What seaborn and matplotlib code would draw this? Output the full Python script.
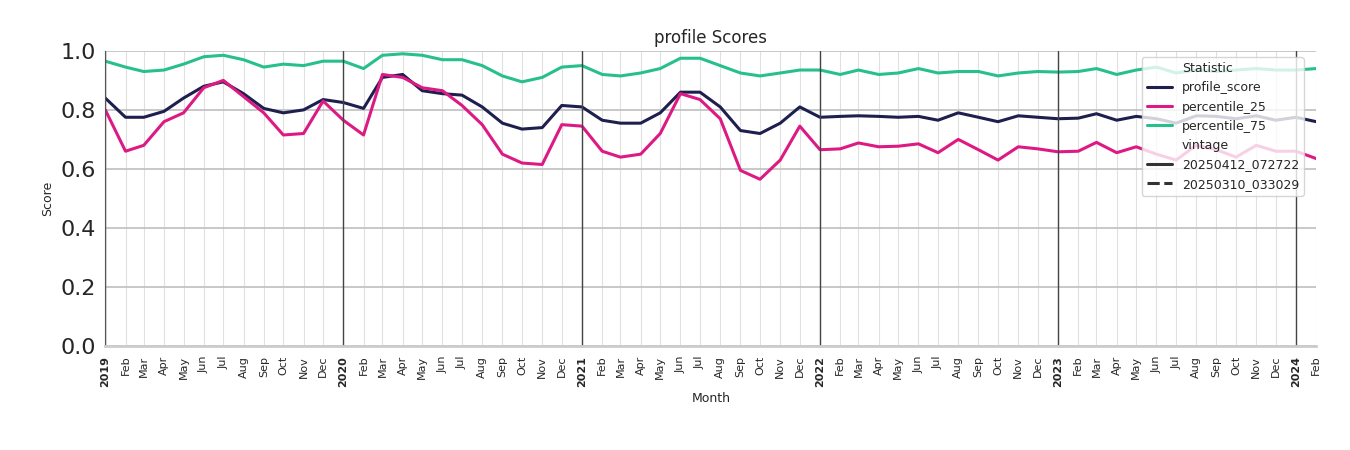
import numpy as np
import pandas as pd
import matplotlib
matplotlib.use("Agg")
import matplotlib.pyplot as plt
import seaborn as sns

months = pd.date_range("2019-01-01", "2024-02-01", freq="MS")

profile_score = [0.84, 0.775, 0.775, 0.795, 0.84, 0.88, 0.895, 0.855, 0.805, 0.79, 0.80, 0.835,
                 0.825, 0.805, 0.91, 0.92, 0.865, 0.855, 0.85, 0.81, 0.755, 0.735, 0.74, 0.815,
                 0.81, 0.765, 0.755, 0.755, 0.79, 0.86, 0.86, 0.81, 0.73, 0.72, 0.755, 0.81,
                 0.775, 0.778, 0.78, 0.778, 0.775, 0.778, 0.765, 0.79, 0.775, 0.76, 0.78, 0.775,
                 0.77, 0.772, 0.787, 0.765, 0.778, 0.77, 0.755, 0.78, 0.778, 0.77, 0.78, 0.765,
                 0.775, 0.76]
percentile_25 = [0.80, 0.66, 0.68, 0.76, 0.79, 0.875, 0.90, 0.845, 0.79, 0.715, 0.72, 0.83,
                 0.765, 0.715, 0.92, 0.91, 0.875, 0.865, 0.815, 0.75, 0.65, 0.62, 0.615, 0.75,
                 0.745, 0.66, 0.64, 0.65, 0.72, 0.855, 0.835, 0.77, 0.595, 0.565, 0.63, 0.745,
                 0.665, 0.668, 0.688, 0.675, 0.677, 0.685, 0.655, 0.70, 0.665, 0.63, 0.675, 0.668,
                 0.658, 0.66, 0.69, 0.655, 0.675, 0.65, 0.63, 0.68, 0.665, 0.64, 0.68, 0.66,
                 0.66, 0.635]
percentile_75 = [0.965, 0.945, 0.93, 0.935, 0.955, 0.98, 0.985, 0.97, 0.945, 0.955, 0.95, 0.965,
                 0.965, 0.94, 0.985, 0.99, 0.985, 0.97, 0.97, 0.95, 0.915, 0.895, 0.91, 0.945,
                 0.95, 0.92, 0.915, 0.925, 0.94, 0.975, 0.975, 0.95, 0.925, 0.915, 0.925, 0.935,
                 0.935, 0.92, 0.935, 0.92, 0.925, 0.94, 0.925, 0.93, 0.93, 0.915, 0.925, 0.93,
                 0.928, 0.93, 0.94, 0.92, 0.935, 0.945, 0.925, 0.935, 0.93, 0.935, 0.94, 0.935,
                 0.935, 0.94]
vintages = ["20250412_072722", "20250310_033029"]

df = pd.DataFrame({
    "Month": np.tile(months, 3),
    "Score": profile_score + percentile_25 + percentile_75,
    "Statistic": ["profile_score"] * 62 + ["percentile_25"] * 62 + ["percentile_75"] * 62,
    "vintage": vintages[0],
})

sns.set_style("whitegrid")
fig, ax = plt.subplots(figsize=(13.5, 4.5), dpi=100)
fig.subplots_adjust(left=0.078, right=0.975, top=0.887, bottom=0.231)

sns.lineplot(data=df, x="Month", y="Score", hue="Statistic", style="vintage",
             style_order=vintages,
             palette=["#1f1f4f", "#dd1a84", "#27c08c"], linewidth=2.2, ax=ax)

ax.set_ylim(0, 1.0)
ax.set_xlim(months[0], months[-1])
ax.set_xticks(months)
labels = [m.strftime("%Y") if m.month == 1 else m.strftime("%b") for m in months]
ax.set_xticklabels(labels, rotation=90, fontsize=8)
for lab, m in zip(ax.get_xticklabels(), months):
    if m.month == 1:
        lab.set_fontweight("bold")
ax.tick_params(axis="y", labelsize=16)
ax.grid(axis="x", color="#e0e0e0", linewidth=0.8)
ax.grid(axis="y", color="#c4c4c4", linewidth=1.3)
for m in months:
    if m.month == 1:
        ax.axvline(m, color="#444444", linewidth=1)
for s in ["top", "right"]:
    ax.spines[s].set_visible(False)
ax.spines["left"].set_color("#555555")
ax.spines["bottom"].set_color("#cccccc")
ax.spines["bottom"].set_linewidth(2)
ax.set_xlabel("Month", fontsize=9)
ax.set_ylabel("Score", fontsize=9)
ax.set_title("profile Scores", fontsize=12)
ax.legend(loc="upper right", fontsize=9, framealpha=0.8, bbox_to_anchor=(0.995, 1.0))

fig.savefig("out.png")
